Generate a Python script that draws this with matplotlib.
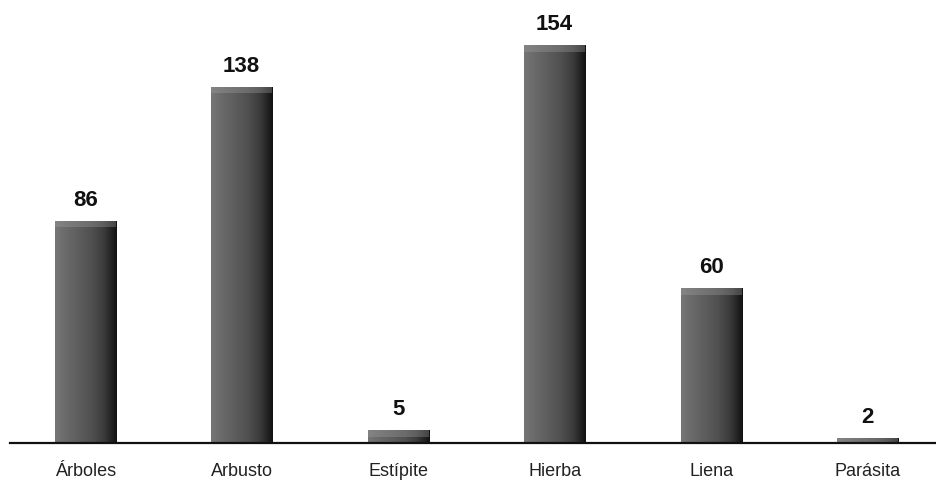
import numpy as np
import matplotlib
matplotlib.use("Agg")
import matplotlib.pyplot as plt
from matplotlib.colors import LinearSegmentedColormap

categorias = ["Árboles", "Arbusto", "Estípite", "Hierba", "Liena", "Parásita"]
valores = [86, 138, 5, 154, 60, 2]

plt.rcParams['font.family'] = ['Liberation Sans', 'DejaVu Sans']

fig = plt.figure(figsize=(9.37, 4.89), dpi=100)
ax = fig.add_axes([10 / 937, 1 - 444 / 489, 925 / 937, 439 / 489])

x = np.arange(len(categorias))
bars = ax.bar(x, valores, width=0.39, color="#555555", edgecolor="none")

# degradado gris -> casi negro en cada barra
cmap = LinearSegmentedColormap.from_list(
    "barra", ["#767676", "#686868", "#5c5c5c", "#505050", "#3a3a3a", "#111111"])
grad = np.linspace(0, 1, 256).reshape(1, -1)
for b in bars:
    x0, w, h = b.get_x(), b.get_width(), b.get_height()
    im = ax.imshow(grad, cmap=cmap, aspect="auto", extent=(x0, x0 + w, 0, h),
                   zorder=2, interpolation="bicubic")
    im.set_clip_path(b)
    # franja clara arriba, suave
    ax.fill_between([x0, x0 + w], max(h - 2.5, 0), h, color="#a0a0a0",
                    alpha=0.35, zorder=3, linewidth=0)

for xi, v in zip(x, valores):
    ax.annotate(str(v), (xi, v), xytext=(0, 8), textcoords="offset points",
                ha="center", va="bottom", fontsize=16, fontweight="bold",
                color="#111111")

ax.set_xlim(-0.48, 5.43)
ax.set_ylim(0, 170)
ax.set_xticks(x)
ax.set_xticklabels(categorias, fontsize=13, color="#222222")
ax.tick_params(axis="x", length=0, pad=14)
ax.set_yticks([])
for s in ["top", "right", "left"]:
    ax.spines[s].set_visible(False)
ax.spines["bottom"].set_linewidth(1.6)
ax.spines["bottom"].set_color("#111111")
ax.spines["bottom"].set_zorder(5)

fig.savefig("out.png", dpi=100, facecolor="white")
